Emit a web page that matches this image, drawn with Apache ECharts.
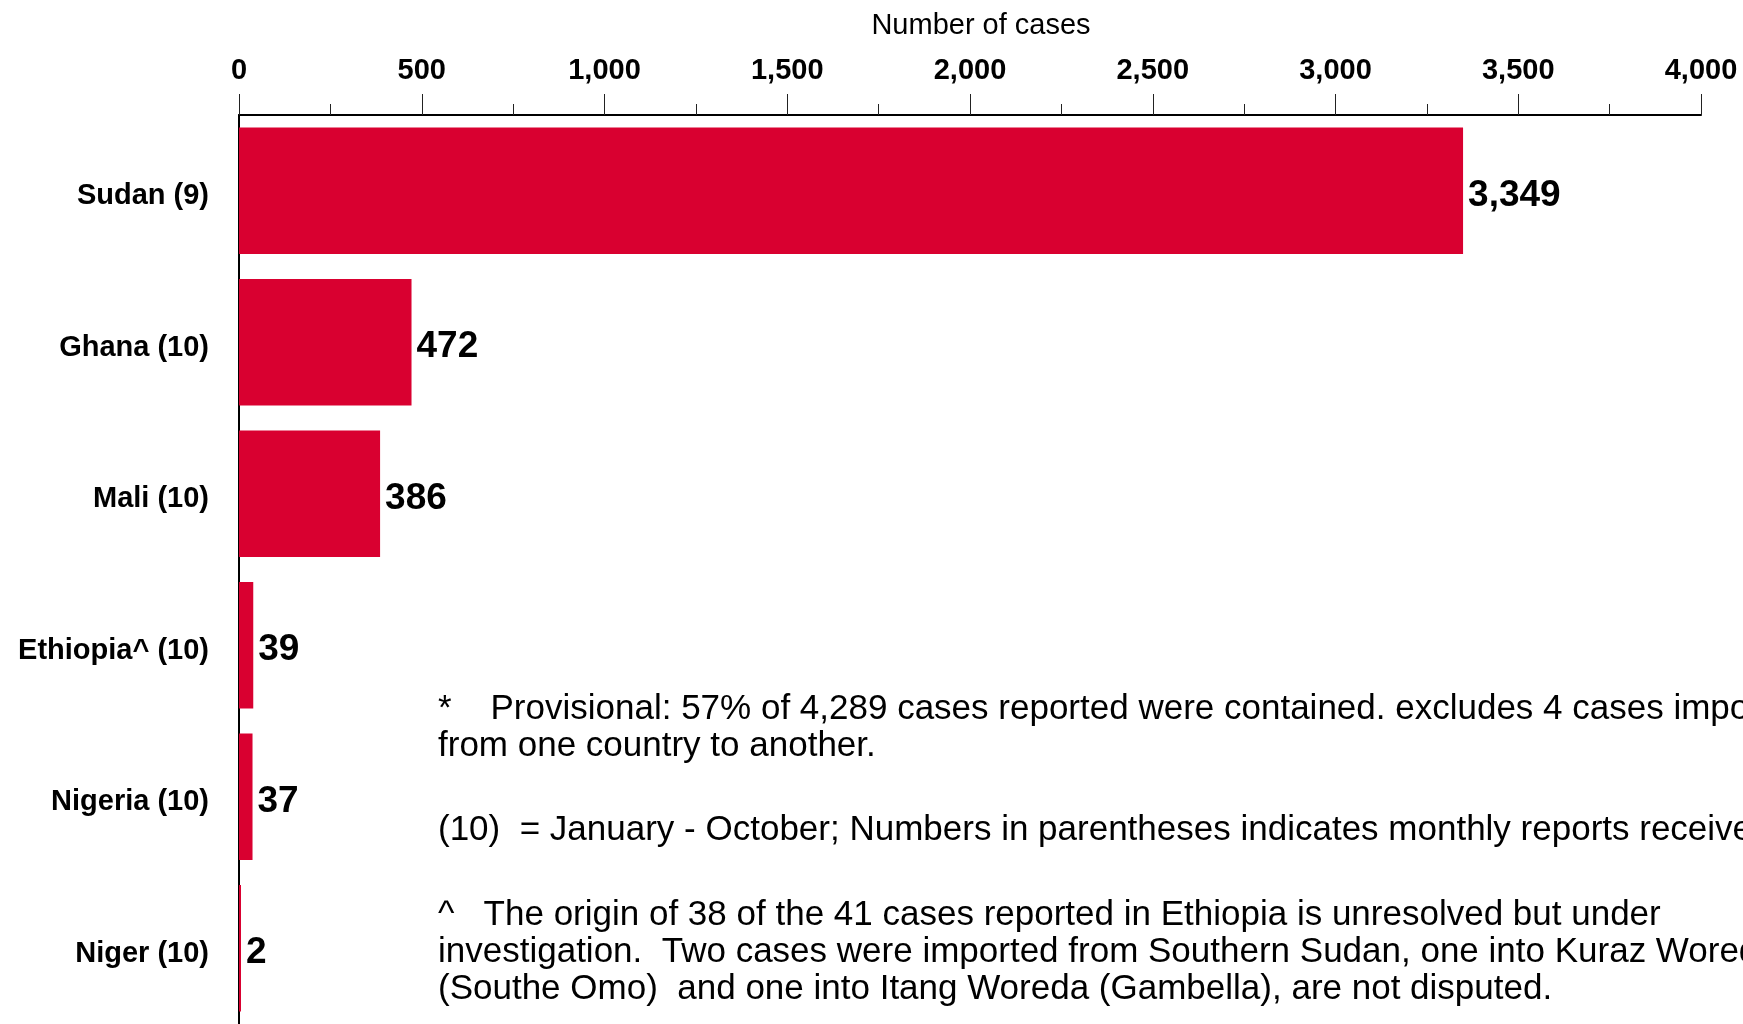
<!DOCTYPE html>
<html>
<head>
<meta charset="utf-8">
<script src="https://cdn.jsdelivr.net/npm/echarts@6/dist/echarts.min.js"></script>
<style>
  html, body { margin: 0; padding: 0; background: #ffffff; }
  #chart { width: 1743px; height: 1024px; }
</style>
</head>
<body>
<div id="chart"></div>
<script>
// countries (months of reports in parentheses), top to bottom
const categories = ["Sudan (9)", "Ghana (10)", "Mali (10)", "Ethiopia^ (10)", "Nigeria (10)", "Niger (10)"];
const cases = [3349, 472, 386, 39, 37, 2];
// x axis ticks
const xMin = 0;
const xMax = 4000;
const xStep = 500;
const axisTitle = "Number of cases";
// footnotes
const note1 = [
  "*    Provisional: 57% of 4,289 cases reported were contained. excludes 4 cases imported",
  "from one country to another."
];
const note2 = [
  "(10)  = January - October; Numbers in parentheses indicates monthly reports received"
];
const note3 = [
  "^   The origin of 38 of the 41 cases reported in Ethiopia is unresolved but under",
  "investigation.  Two cases were imported from Southern Sudan, one into Kuraz Woreda",
  "(Southe Omo)  and one into Itang Woreda (Gambella), are not disputed."
];

const FONT = "'Liberation Sans', Arial, Helvetica, sans-serif";
const fmt = v => Number(v).toLocaleString("en-US");

const chart = echarts.init(document.getElementById("chart"));

const noteStyle = {
  fill: "#000",
  fontFamily: FONT,
  fontSize: 35,
  lineHeight: 37
};

chart.setOption({
  backgroundColor: "#ffffff",
  animation: false,
  grid: {
    left: 239,
    right: 42,
    top: 115,
    height: 912
  },
  xAxis: {
    type: "value",
    position: "top",
    min: xMin,
    max: xMax,
    interval: xStep,
    name: axisTitle,
    nameLocation: "middle",
    nameGap: 75,
    nameTextStyle: {
      color: "#000",
      fontFamily: FONT,
      fontSize: 29,
      padding: [0, 0, 0, 22]
    },
    splitLine: { show: false },
    axisLine: {
      show: true,
      lineStyle: { color: "#000", width: 2 }
    },
    axisTick: {
      show: true,
      length: 21,
      lineStyle: { color: "#222", width: 1 }
    },
    minorTick: {
      show: true,
      splitNumber: 2,
      length: 11,
      lineStyle: { color: "#222", width: 1 }
    },
    axisLabel: {
      margin: 30,
      color: "#000",
      fontFamily: FONT,
      fontSize: 29,
      fontWeight: "bold",
      formatter: fmt
    }
  },
  yAxis: {
    type: "category",
    inverse: true,
    data: categories,
    axisTick: { show: false },
    axisLine: {
      show: true,
      lineStyle: { color: "#000", width: 2 }
    },
    axisLabel: {
      margin: 30,
      verticalAlign: "top",
      lineHeight: 11,
      color: "#000",
      fontFamily: FONT,
      fontSize: 29,
      fontWeight: "bold"
    }
  },
  series: [
    {
      type: "bar",
      data: cases,
      barCategoryGap: "16.4%",
      barMinHeight: 2,
      itemStyle: { color: "#D90030" },
      label: {
        show: true,
        position: "right",
        distance: 5,
        offset: [0, 5],
        color: "#000",
        fontFamily: FONT,
        fontSize: 37,
        fontWeight: "bold",
        formatter: p => fmt(p.value)
      }
    }
  ],
  graphic: [
    { type: "text", left: 438, top: 691, style: Object.assign({ text: note1.join("\n") }, noteStyle) },
    { type: "text", left: 438, top: 812, style: Object.assign({ text: note2.join("\n") }, noteStyle) },
    { type: "text", left: 438, top: 897, style: Object.assign({ text: note3.join("\n") }, noteStyle) }
  ]
});
</script>
</body>
</html>
